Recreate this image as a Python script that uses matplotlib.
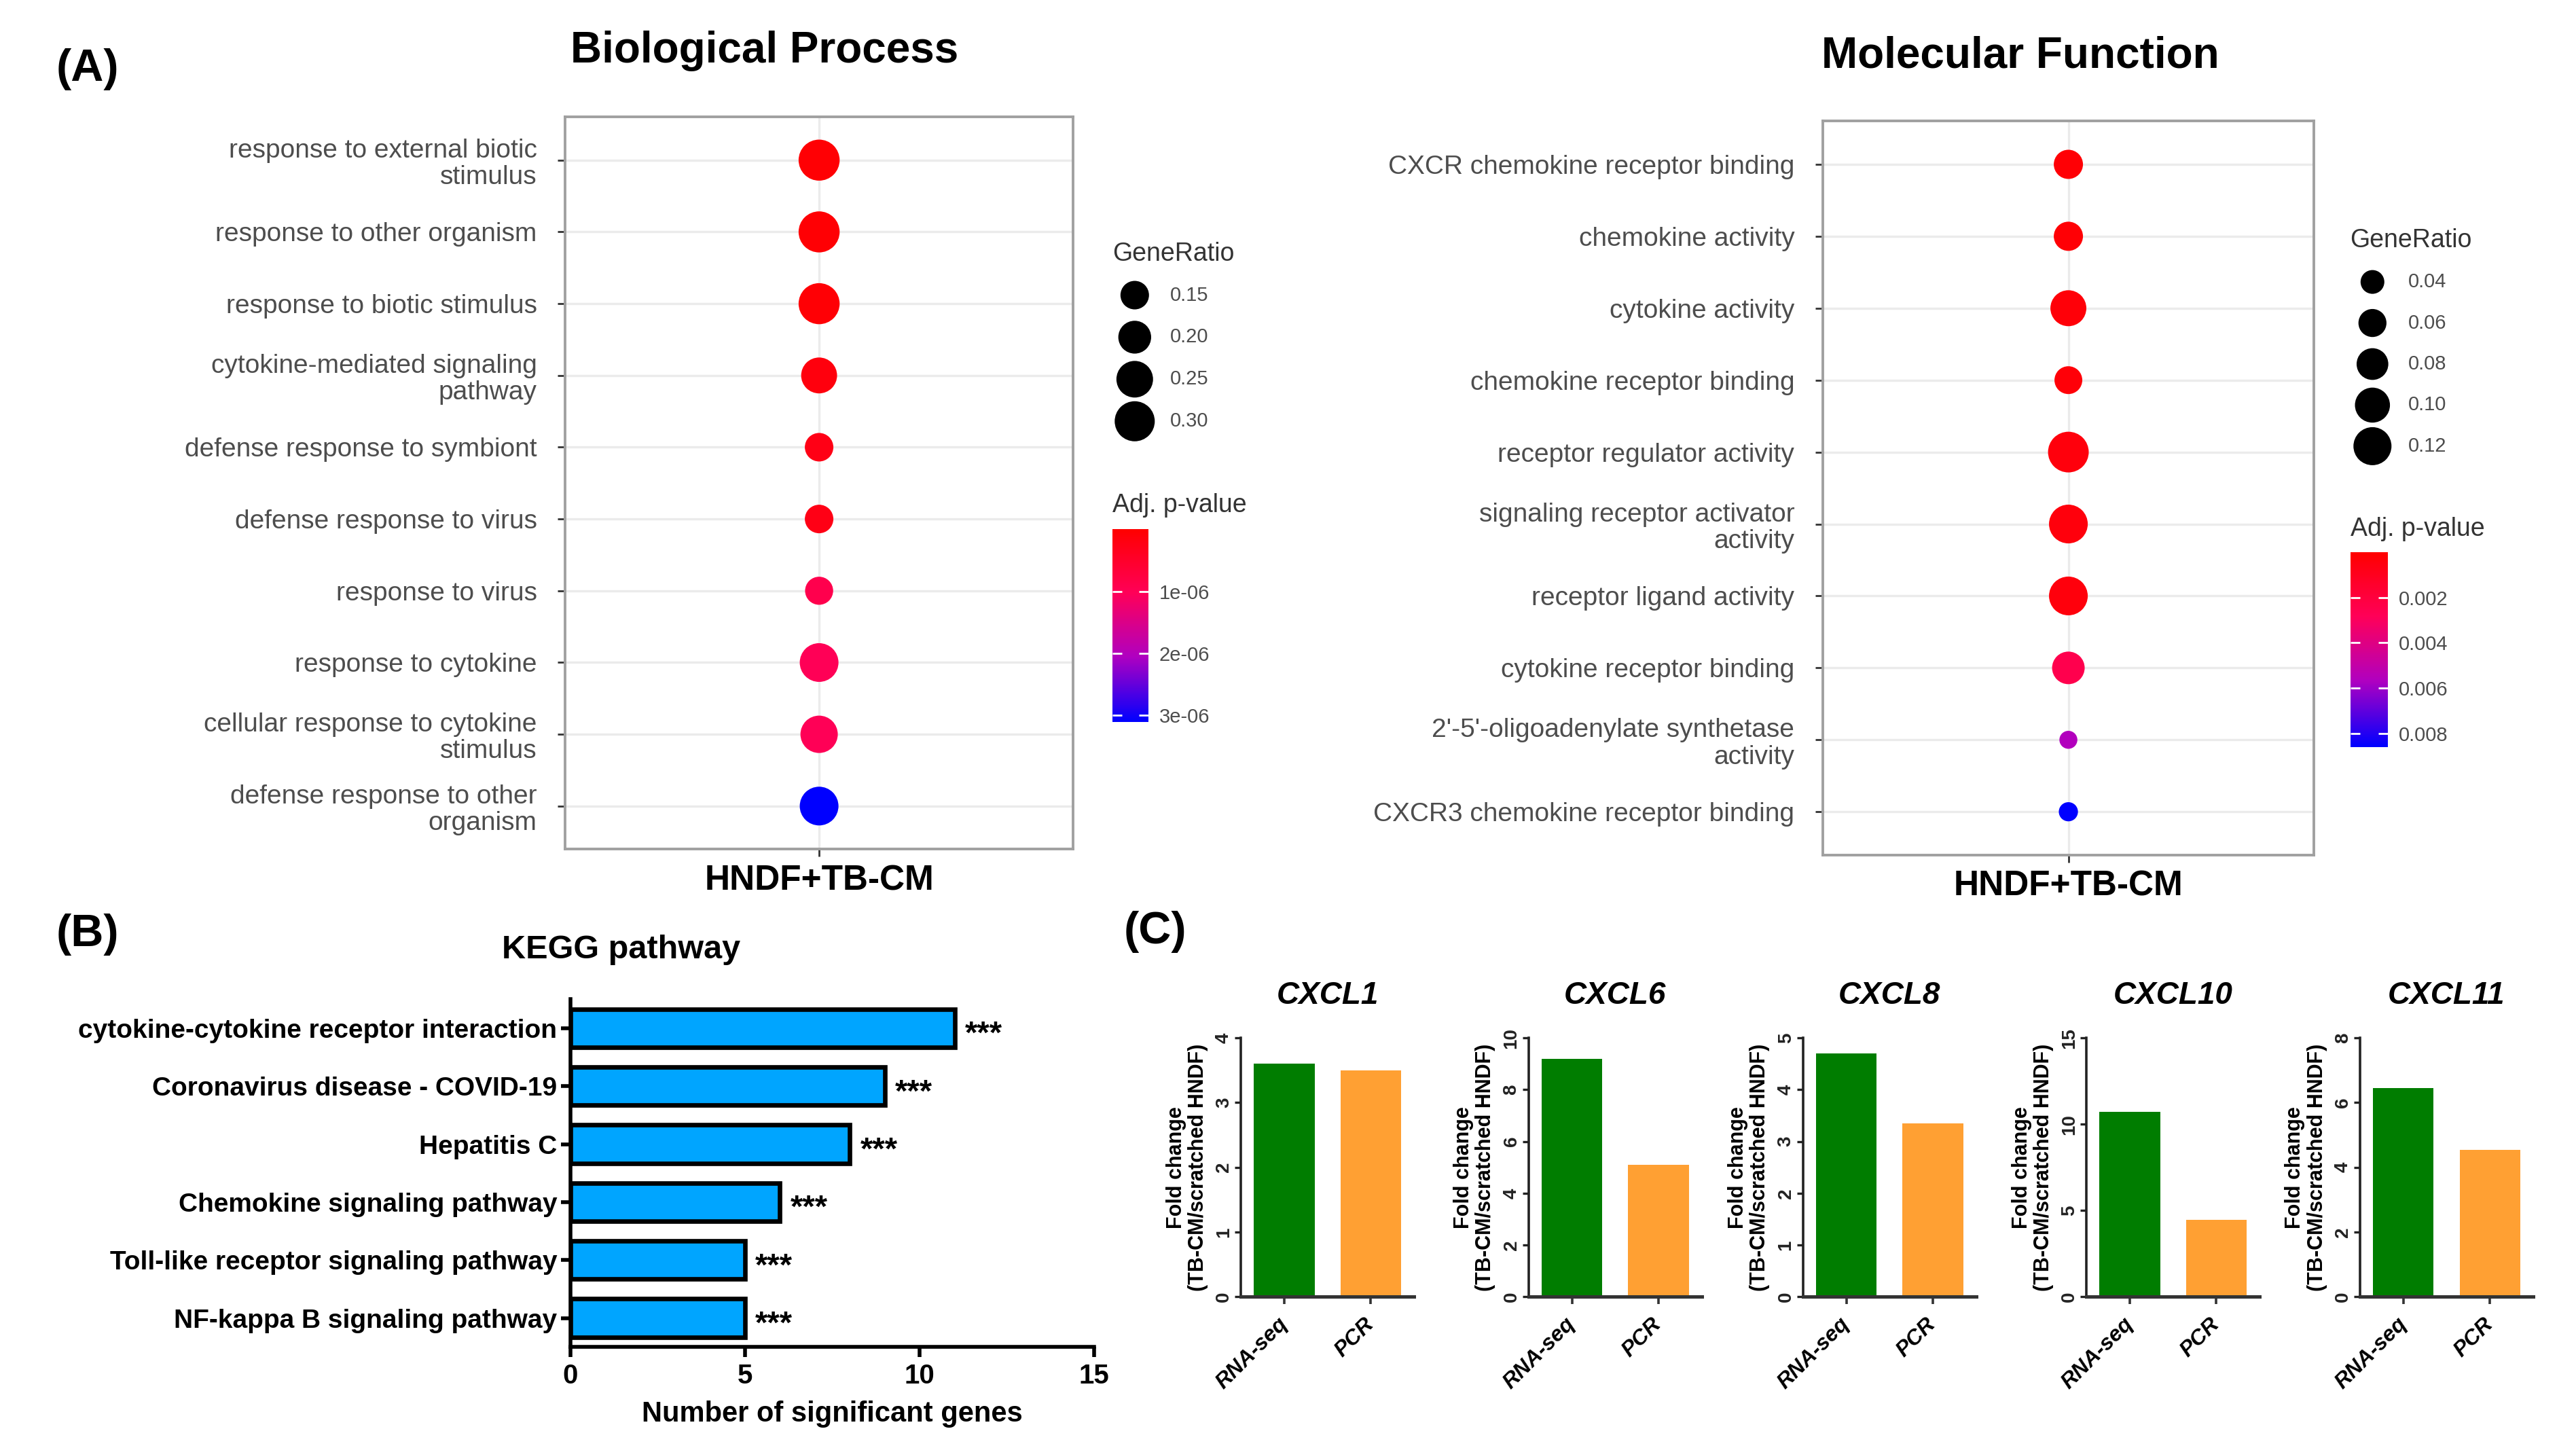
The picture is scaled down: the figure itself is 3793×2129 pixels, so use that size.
import numpy as np
import matplotlib
matplotlib.use("Agg")
import matplotlib.pyplot as plt
from matplotlib.colors import LinearSegmentedColormap, Normalize
from matplotlib.cm import ScalarMappable

# -------------------------------------------------------------------------
# Data
# -------------------------------------------------------------------------
GROUP = "HNDF+TB-CM"

BP_TERMS = [
    "response to external biotic\nstimulus",
    "response to other organism",
    "response to biotic stimulus",
    "cytokine-mediated signaling\npathway",
    "defense response to symbiont",
    "defense response to virus",
    "response to virus",
    "response to cytokine",
    "cellular response to cytokine\nstimulus",
    "defense response to other\norganism",
]
BP_RATIO = [0.315, 0.315, 0.315, 0.24, 0.15, 0.15, 0.145, 0.28, 0.26, 0.28]
BP_PADJ = [0.05e-6, 0.06e-6, 0.07e-6, 0.15e-6, 0.25e-6, 0.25e-6,
           0.90e-6, 1.00e-6, 1.00e-6, 3.11e-6]
BP_RATIO_BREAKS = [0.15, 0.20, 0.25, 0.30]
BP_P_TICKS = [1e-6, 2e-6, 3e-6]
BP_P_LABELS = ["1e-06", "2e-06", "3e-06"]
BP_P_LIM = (0.0, 3.11e-6)

MF_TERMS = [
    "CXCR chemokine receptor binding",
    "chemokine activity",
    "cytokine activity",
    "chemokine receptor binding",
    "receptor regulator activity",
    "signaling receptor activator\nactivity",
    "receptor ligand activity",
    "cytokine receptor binding",
    "2'-5'-oligoadenylate synthetase\nactivity",
    "CXCR3 chemokine receptor binding",
]
MF_RATIO = [0.066, 0.066, 0.106, 0.059, 0.139, 0.125, 0.125, 0.085, 0.018, 0.022]
MF_PADJ = [0.0002, 0.0002, 0.0003, 0.0003, 0.0004, 0.0004, 0.0004,
           0.0025, 0.0056, 0.0086]
MF_RATIO_BREAKS = [0.04, 0.06, 0.08, 0.10, 0.12]
MF_P_TICKS = [0.002, 0.004, 0.006, 0.008]
MF_P_LABELS = ["0.002", "0.004", "0.006", "0.008"]
MF_P_LIM = (0.0, 0.0086)

KEGG_PATHWAYS = [
    "cytokine-cytokine receptor interaction",
    "Coronavirus disease - COVID-19",
    "Hepatitis C",
    "Chemokine signaling pathway",
    "Toll-like receptor signaling pathway",
    "NF-kappa B signaling pathway",
]
KEGG_GENES = [11, 9, 8, 6, 5, 5]
KEGG_SIG = ["***"] * 6
KEGG_XTICKS = [0, 5, 10, 15]

GENES = ["CXCL1", "CXCL6", "CXCL8", "CXCL10", "CXCL11"]
METHODS = ["RNA-seq", "PCR"]
RNASEQ_FC = [3.6, 9.2, 4.7, 10.7, 6.45]
PCR_FC = [3.5, 5.1, 3.35, 4.45, 4.55]
FC_YMAX = [4, 10, 5, 15, 8]
FC_YSTEP = [1, 2, 1, 5, 2]

# -------------------------------------------------------------------------
# Layout helpers (positions measured on a 1563 x 877 preview)
# -------------------------------------------------------------------------
W_PX, H_PX, DPI = 3793, 2129, 200
PW, PH = 1563.0, 877.0


def box(l, t, r, b):
    return [l / PW, 1 - b / PH, (r - l) / PW, (b - t) / PH]


def fx(x):
    return x / PW


def fy(y):
    return 1 - y / PH


def dot_area(ratio, coef):
    # diameter^2 (in target pixels) grows linearly with GeneRatio
    a, b = coef
    d_px = np.sqrt(a + b * np.asarray(ratio, dtype=float))
    return (d_px * 72.0 / DPI) ** 2


BP_SIZE = (47.0, 11447.0)
MF_SIZE = (270.0, 23887.0)

PADJ_CMAP = LinearSegmentedColormap.from_list(
    "padj", [(0.0, "#ff0000"), (0.33, "#ff0058"), (0.66, "#b000c0"), (1.0, "#0000ff")])
GREY_TXT = "#4d4d4d"
KEGG_BLUE = "#00a5ff"
GREEN = "#007d00"
ORANGE = "#ffa033"

plt.rcParams["font.family"] = ["Liberation Sans", "DejaVu Sans"]

fig = plt.figure(figsize=(W_PX / DPI, H_PX / DPI), dpi=DPI)
fig.patch.set_facecolor("white")

canvas = fig.add_axes([0, 0, 1, 1])
canvas.set_xlim(0, PW)
canvas.set_ylim(PH, 0)
canvas.axis("off")


# -------------------------------------------------------------------------
# (A) GO dot plots
# -------------------------------------------------------------------------
def go_dotplot(frame, terms, ratio, padj, p_lim, size_coef, title, title_xy):
    ax = fig.add_axes(box(*frame))
    rows = np.arange(len(terms))
    ax.scatter(np.ones(len(terms)), rows, s=dot_area(ratio, size_coef), c=padj,
               cmap=PADJ_CMAP, norm=Normalize(*p_lim), linewidths=0, zorder=3)
    ax.set_xlim(0.4, 1.6)
    ax.set_ylim(len(terms) - 0.4, -0.6)
    ax.set_xticks([1], [GROUP], fontsize=18.5, fontweight="bold", color="black")
    ax.set_yticks(rows, terms, fontsize=14, color=GREY_TXT, linespacing=1.12)
    ax.grid(True, color="#ebebeb", lw=1.2)
    ax.set_axisbelow(True)
    for sp in ax.spines.values():
        sp.set_color("#a0a0a0")
        sp.set_linewidth(1.4)
    ax.tick_params(axis="y", length=4, width=1, color="#333333", pad=11)
    ax.tick_params(axis="x", length=4, width=1, color="#333333", pad=4)
    fig.text(fx(title_xy[0]), fy(title_xy[1]), title, ha="center", va="center",
             fontsize=23, fontweight="bold")
    return ax


def ratio_legend(x_title, y_title, x_dot, x_lab, y0, dy, breaks, size_coef):
    canvas.text(x_title, y_title, "GeneRatio", fontsize=13.5, color="#333333",
                ha="left", va="center")
    ys = y0 + dy * np.arange(len(breaks))
    canvas.scatter(np.full(len(breaks), x_dot), ys, s=dot_area(breaks, size_coef),
                   c="black", linewidths=0)
    for y, b in zip(ys, breaks):
        canvas.text(x_lab, y, f"{b:.2f}", fontsize=10.5, color=GREY_TXT,
                    ha="left", va="center")


def padj_bar(frame, p_lim, ticks, labels, x_title, y_title):
    canvas.text(x_title, y_title, "Adj. p-value", fontsize=13.5, color="#333333",
                ha="left", va="center")
    cax = fig.add_axes(box(*frame))
    cb = fig.colorbar(ScalarMappable(Normalize(*p_lim), PADJ_CMAP), cax=cax, ticks=ticks)
    cb.minorticks_off()
    cb.outline.set_visible(False)
    cb.set_ticklabels(labels)
    cax.invert_yaxis()
    cax.tick_params(direction="in", color="white", length=5, width=1, left=True,
                    right=True, labelsize=10.5, labelcolor=GREY_TXT, pad=5.5)


go_dotplot((343, 71, 651, 515), BP_TERMS, BP_RATIO, BP_PADJ, BP_P_LIM, BP_SIZE,
           "Biological Process", (464, 31))
ratio_legend(675, 154, 688.5, 710, 179, 25.5, BP_RATIO_BREAKS, BP_SIZE)
padj_bar((675, 321, 697, 438), BP_P_LIM, BP_P_TICKS, BP_P_LABELS, 675, 306.5)

go_dotplot((1106, 73.5, 1404, 518.5), MF_TERMS, MF_RATIO, MF_PADJ, MF_P_LIM, MF_SIZE,
           "Molecular Function", (1226, 34))
ratio_legend(1426, 146, 1439.5, 1461, 171, 24.9, MF_RATIO_BREAKS, MF_SIZE)
padj_bar((1426, 335, 1449, 453), MF_P_LIM, MF_P_TICKS, MF_P_LABELS, 1426, 321)

# -------------------------------------------------------------------------
# (B) KEGG bar chart
# -------------------------------------------------------------------------
axb = fig.add_axes(box(346, 606, 664, 817))
rows = np.arange(len(KEGG_PATHWAYS))
axb.barh(rows, KEGG_GENES, height=0.66, color=KEGG_BLUE, edgecolor="black",
         linewidth=2.4, zorder=3)
axb.set_xlim(0, 15)
axb.set_ylim(len(KEGG_PATHWAYS) - 0.5, -0.5)
axb.set_xticks(KEGG_XTICKS, [str(t) for t in KEGG_XTICKS], fontsize=14.5, fontweight="bold")
axb.set_yticks(rows, KEGG_PATHWAYS, fontsize=14, fontweight="bold")
for side in ("top", "right"):
    axb.spines[side].set_visible(False)
for side in ("left", "bottom"):
    axb.spines[side].set_linewidth(2.0)
axb.tick_params(axis="y", length=5, width=2, pad=2)
axb.tick_params(axis="x", length=5.5, width=2, pad=3)
axb.set_xlabel("Number of significant genes", fontsize=15, fontweight="bold", labelpad=6)
for r, n, s in zip(rows, KEGG_GENES, KEGG_SIG):
    axb.text(n + 0.3, r + 0.12, s, fontsize=17, fontweight="bold", ha="left", va="center")
fig.text(fx(377), fy(576), "KEGG pathway", ha="center", va="center",
         fontsize=17.5, fontweight="bold")

# -------------------------------------------------------------------------
# (C) RNA-seq vs PCR fold changes
# -------------------------------------------------------------------------
C_LEFTS = [753, 927.5, 1094, 1266, 1432]
for i, gene in enumerate(GENES):
    ax = fig.add_axes(box(C_LEFTS[i], 629.5, C_LEFTS[i] + 105, 786.5))
    x = np.arange(len(METHODS))
    ax.bar(x, [RNASEQ_FC[i], PCR_FC[i]], width=0.7, color=[GREEN, ORANGE], zorder=2)
    ax.set_xlim(-0.5, 1.5)
    ax.set_ylim(0, FC_YMAX[i])
    yt = np.arange(0, FC_YMAX[i] + 1, FC_YSTEP[i])
    ax.set_yticks(yt, [str(v) for v in yt], fontsize=10, fontweight="bold",
                  rotation=90, va="center", color="#222222")
    ax.set_xticks(x, METHODS, fontsize=11.5, fontweight="bold", fontstyle="italic",
                  rotation=45, ha="right", va="center", rotation_mode="anchor")
    for side in ("top", "right"):
        ax.spines[side].set_visible(False)
    ax.spines["left"].set_linewidth(1.3)
    ax.spines["left"].set_color("#222222")
    ax.spines["bottom"].set_linewidth(1.8)
    ax.spines["bottom"].set_color("#333333")
    ax.tick_params(axis="y", length=3.4, width=1.2, pad=1, color="#222222")
    ax.tick_params(axis="x", length=4, width=1.3, pad=9, color="#333333")
    ax.set_ylabel("Fold change\n(TB-CM/scratched HNDF)", fontsize=11,
                  fontweight="bold", linespacing=1.1)
    ax.yaxis.set_label_coords(-0.19, 0.5)
    ax.set_title(gene, fontsize=16.5, fontweight="bold", fontstyle="italic", pad=18)

# Panel letters
fig.text(fx(53), fy(42), "(A)", ha="center", va="center", fontsize=24, fontweight="bold")
fig.text(fx(53), fy(567), "(B)", ha="center", va="center", fontsize=24, fontweight="bold")
fig.text(fx(701), fy(565), "(C)", ha="center", va="center", fontsize=24, fontweight="bold")

fig.savefig("out.png", dpi=DPI)
plt.close(fig)
